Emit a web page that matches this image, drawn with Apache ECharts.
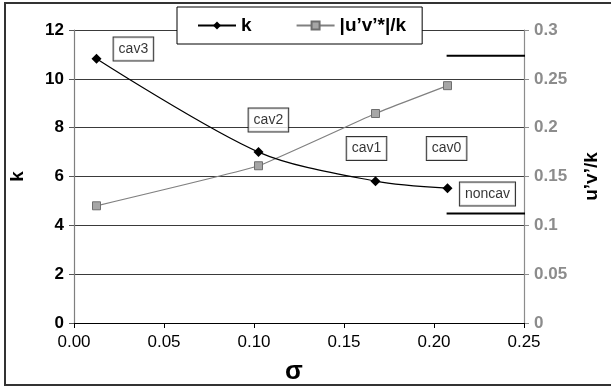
<!DOCTYPE html>
<html><head><meta charset="utf-8">
<script src="https://cdn.jsdelivr.net/npm/echarts@6/dist/echarts.min.js"></script>
<style>html,body{margin:0;padding:0;background:#fff}#c{width:611px;height:390px}</style>
</head><body><div id="c"></div>
<script>
const sigma = [0.0125, 0.1025, 0.1675, 0.2075];
const kValues = [10.82, 7.0, 5.81, 5.52];
const ratioValues = [0.120, 0.161, 0.2145, 0.243];
const xTicks = ['0.00','0.05','0.10','0.15','0.20','0.25'];
const annotations = [
  {name:'cav3', x:0.033, y:11.22},
  {name:'cav2', x:0.108, y:8.31},
  {name:'cav1', x:0.1625, y:7.15},
  {name:'cav0', x:0.207, y:7.15},
  {name:'noncav', x:0.2297, y:5.28}
];
const refLevels = [0.2736, 0.112];
const refSpan = [0.207, 0.2527];

const font = 'Liberation Sans';
const chart = echarts.init(document.getElementById('c'));
const series = [
  {name:'k', type:'line', yAxisIndex:0, smooth:0.3, data: sigma.map((s,i)=>[s,kValues[i]]),
   symbol:'diamond', symbolSize:10, itemStyle:{color:'#000'}, lineStyle:{color:'#000', width:1.2}, z:5},
  {name:'|u\u2019v\u2019*|/k', type:'line', yAxisIndex:1, smooth:0.1, data: sigma.map((s,i)=>[s,ratioValues[i]]),
   symbol:'rect', symbolSize:8, itemStyle:{color:'#a6a6a6', borderColor:'#6e6e6e', borderWidth:1},
   lineStyle:{color:'#808080', width:1.2}, z:4}
];
refLevels.forEach(v=>{
  series.push({type:'line', yAxisIndex:1, clip:false, silent:true, symbol:'none',
    data: refSpan.map(x=>[x,v]), lineStyle:{color:'#000', width:2}, z:6});
});
series.push({type:'scatter', yAxisIndex:0, symbolSize:0, silent:true, z:7,
  data: annotations.map(a=>({value:[a.x,a.y], name:a.name})),
  label:{show:true, position:'inside', formatter:p=>p.name, color:'#000', fontFamily:font, fontSize:14,
    backgroundColor:'#fff', borderColor:'#000', borderWidth:1, padding:[5,5,4,5]}});

chart.setOption({
  animation:false,
  backgroundColor:'#fff',
  graphic:[{type:'rect', shape:{x:5, y:3, width:620, height:382}, style:{fill:null, stroke:'#333', lineWidth:2}, z:0}],
  grid:{left:73, right:87, top:30, bottom:65},
  legend:{top:7, left:177, itemGap:44, itemWidth:38, itemHeight:10,
    data:['k','|u\u2019v\u2019*|/k'],
    backgroundColor:'#fff', borderColor:'#000', borderWidth:1, padding:[9,16,9,20],
    textStyle:{fontFamily:font, fontSize:19, fontWeight:'bold', color:'#000'}, z:10},
  xAxis:{type:'value', min:0, max:0.25, interval:0.05,
    name:'\u03c3', nameLocation:'middle', nameGap:36,
    nameTextStyle:{fontFamily:font, fontSize:26, fontWeight:'bold', color:'#000', padding:[0,0,0,-10]},
    axisLine:{lineStyle:{color:'#000', width:1}},
    axisTick:{show:true, inside:false, length:5, lineStyle:{color:'#000'}},
    axisLabel:{fontFamily:font, fontSize:17, color:'#000', margin:11, formatter:(v,i)=>xTicks[i]},
    splitLine:{show:false}},
  yAxis:[
    {type:'value', min:0, max:12, interval:2, position:'left',
     name:'k', nameLocation:'middle', nameGap:47, nameRotate:90,
     nameTextStyle:{fontFamily:font, fontSize:19, fontWeight:'bold', color:'#000'},
     axisLine:{show:true, lineStyle:{color:'#7f7f7f', width:1.2}},
     axisTick:{show:true, length:5, lineStyle:{color:'#555'}},
     axisLabel:{fontFamily:font, fontSize:17, fontWeight:'bold', color:'#000', margin:10},
     splitLine:{show:true, lineStyle:{color:'#3a3a3a', width:1}}},
    {type:'value', min:0, max:0.3, interval:0.05, position:'right',
     name:'u\u2019v\u2019/k', nameLocation:'middle', nameGap:58, nameRotate:90,
     nameTextStyle:{fontFamily:font, fontSize:19, fontWeight:'bold', color:'#000'},
     axisLine:{show:true, lineStyle:{color:'#8c8c8c', width:1.2}},
     axisTick:{show:true, length:5, lineStyle:{color:'#8c8c8c'}},
     axisLabel:{fontFamily:font, fontSize:17, fontWeight:'bold', color:'#8c8c8c', margin:10},
     splitLine:{show:false}}
  ],
  series: series
});
</script></body></html>
